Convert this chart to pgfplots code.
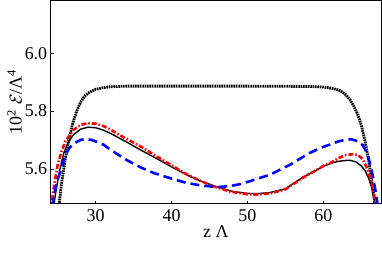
\documentclass[border=0pt]{standalone}
\usepackage{fontspec}
\setmainfont{Liberation Serif}
\usepackage{pgfplots}
\pgfplotsset{compat=1.18}
\begin{document}
\begin{tikzpicture}
\useasboundingbox (-50.7bp,-50.2bp) rectangle (331.3bp,203.8bp);
\begin{axis}[
  scale only axis,
  width=330.3bp, height=203.8bp,
  xmin=24.07, xmax=67.6,
  ymin=5.479, ymax=6.184,
  xtick={30,40,50,60},
  ytick={5.6,5.8,6.0},
  yticklabel style={/pgf/number format/.cd,fixed,fixed zerofill,precision=1},
  /pgf/number format/assume math mode=true,
  tick pos=left,
  tick align=inside,
  major tick length=3bp,
  tick style={black, line width=0.5pt},
  axis line style={line width=0.8pt},
  tick label style={font=\fontsize{18}{21}\selectfont},
  label style={font=\fontsize{18}{21}\selectfont},
  xticklabel style={yshift=-2bp},
  xlabel={z Λ},
  ylabel={10\textsuperscript{2} $\mathcal{E}$/Λ\textsuperscript{4}},
  xlabel style={yshift=3bp},
  ylabel style={yshift=-4bp},
  clip=true,
]
% black dotted
\addplot[black, line width=2.8bp, dash pattern=on 1.6bp off 0.8bp] coordinates {
(24.9,5.40) (25.1,5.46) (25.5,5.55) (26.0,5.635) (26.5,5.705) (27.0,5.76) (27.5,5.80)
(28.0,5.830) (28.5,5.850) (29,5.862) (30,5.875) (31,5.881) (32,5.884) (34,5.886)
(40,5.886) (50,5.886) (58,5.885) (60,5.883) (61,5.879) (62,5.873) (62.5,5.866)
(63,5.855) (63.5,5.840) (64,5.818) (64.5,5.79) (65,5.752) (65.5,5.695) (66,5.625)
(66.4,5.555) (66.8,5.475) (67.0,5.42)
};
% black solid
\addplot[black, line width=1.4bp] coordinates {
(24.2,5.42) (24.4,5.46) (24.8,5.53) (25.3,5.60) (25.8,5.655) (26.35,5.69) (27,5.716)
(28,5.737) (29,5.744) (30,5.742) (31,5.734) (32,5.722) (33.2,5.705) (34.25,5.690)
(36,5.664) (38,5.636) (40,5.607) (42,5.579) (44,5.556) (46,5.537) (48,5.522)
(50,5.515) (51.3,5.514) (53,5.518) (55,5.531) (57.35,5.572) (58,5.580) (59,5.594)
(60,5.609) (61,5.619) (62,5.626) (63,5.629) (63.6,5.629) (64.3,5.624) (65,5.610)
(65.5,5.594) (66,5.566) (66.4,5.532) (66.8,5.48) (67.1,5.43)
};
% red dash-dot
\addplot[red, line width=2.6bp, dash pattern=on 5bp off 2bp on 1.5bp off 2bp] coordinates {
(23.9,5.42) (24.1,5.46) (24.5,5.54) (25.0,5.615) (25.5,5.66) (26,5.695) (27,5.733)
(28,5.752) (29,5.758) (30,5.756) (31,5.748) (32,5.735) (33.2,5.716) (34.25,5.701)
(36,5.676) (37.6,5.650) (40,5.612) (42,5.581) (44,5.556) (45.5,5.540) (47.7,5.521)
(50,5.512) (51.3,5.511) (53,5.515) (55,5.529) (57.35,5.570) (58,5.580) (59,5.594)
(60,5.610) (60.9,5.620) (62,5.637) (63,5.648) (64,5.651) (64.6,5.647) (65.2,5.633)
(65.8,5.60) (66.3,5.56) (66.7,5.51) (67.0,5.46) (67.2,5.42)
};
% blue dashed
\addplot[blue, line width=2.6bp, dash pattern=on 9bp off 5bp] coordinates {
(24.0,5.42) (24.2,5.46) (24.6,5.52) (25.0,5.565) (25.5,5.60) (26.0,5.648) (26.5,5.671)
(27,5.686) (28,5.700) (28.6,5.703) (29.5,5.700) (31,5.684) (32,5.665) (33.2,5.645)
(34.25,5.628) (36,5.604) (37.6,5.586) (40,5.566) (42,5.551) (44,5.542) (46,5.537)
(47.7,5.540) (49,5.547) (50.3,5.557) (53,5.580) (55.6,5.614) (58.2,5.655) (60,5.676)
(60.9,5.684) (62,5.695) (63,5.701) (63.7,5.702) (64.5,5.696) (65.2,5.682) (65.8,5.652)
(66.3,5.605) (66.8,5.535) (67.2,5.47) (67.4,5.43)
};
\end{axis}
\end{tikzpicture}
\end{document}
